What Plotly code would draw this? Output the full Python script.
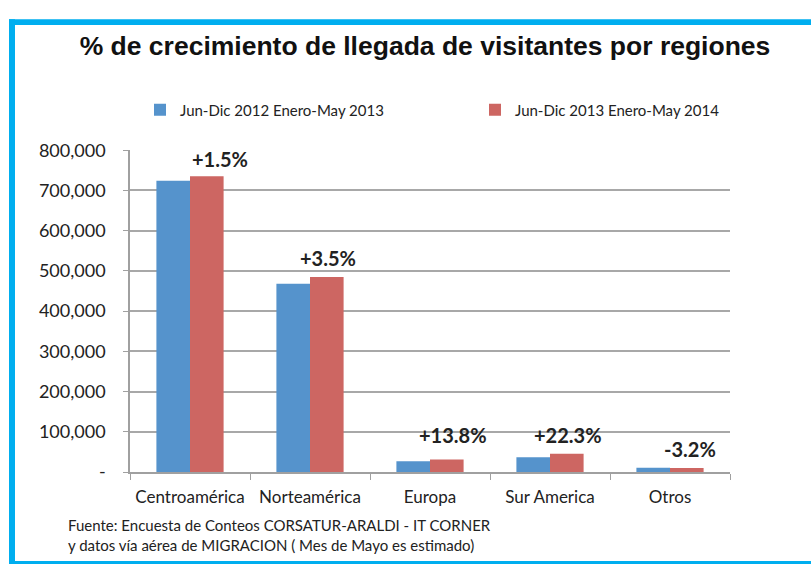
import plotly.graph_objects as go

categories = ["Centroamérica", "Norteamérica", "Europa", "Sur America", "Otros"]
serie_2013 = [724000, 468000, 27000, 36500, 10500]
serie_2014 = [735000, 485000, 31000, 45500, 10200]
crecimiento = ["+1.5%", "+3.5%", "+13.8%", "+22.3%", "-3.2%"]
nombres = ["Jun-Dic 2012 Enero-May 2013", "Jun-Dic 2013 Enero-May 2014"]
y_ticks = [0, 100000, 200000, 300000, 400000, 500000, 600000, 700000, 800000]
y_labels = ["-"] + [f"{v:,}" for v in y_ticks[1:]]

W, H = 811, 568
L, R, T, B = 130, 81, 143, 96
PW, PH = W - L - R, H - T - B


def px(x):
    return (x - L) / PW


def py(y):
    return (H - B - y) / PH


def cx(x):
    return x / W


def cy(y):
    return 1 - y / H


fig = go.Figure()
fig.add_trace(go.Bar(x=categories, y=serie_2013, name=nombres[0], legend="legend",
                     marker=dict(color="#5593CC", line_width=0)))
fig.add_trace(go.Bar(x=categories, y=serie_2014, name=nombres[1], legend="legend2",
                     marker=dict(color="#CD6662", line_width=0)))

# etiquetas de crecimiento sobre cada grupo
label_y = [778000, 533000, 92500, 92500, 56000]
label_dx = [30, 18, 23, 18, 20]
for cat, txt, yy, dx in zip(categories, crecimiento, label_y, label_dx):
    fig.add_annotation(x=cat, y=yy, text=f"<b>{txt}</b>", showarrow=False,
                       xshift=dx, font=dict(family="Lato", size=20, color="#222"))

# marco azul (arriba, izquierda, abajo)
azul = "#00AEEF"
fig.add_shape(type="rect", xref="paper", yref="paper", x0=px(9), x1=px(811),
              y0=py(15), y1=py(9), fillcolor=azul, line_width=0, layer="below")
fig.add_shape(type="rect", xref="paper", yref="paper", x0=px(9), x1=px(15),
              y0=py(566), y1=py(9), fillcolor=azul, line_width=0, layer="below")
fig.add_shape(type="rect", xref="paper", yref="paper", x0=px(9), x1=px(811),
              y0=py(566), y1=py(563), fillcolor=azul, line_width=0, layer="below")

fig.add_annotation(xref="paper", yref="paper", x=px(66), y=py(536), xanchor="left",
                   yanchor="middle", align="left", showarrow=False,
                   text="Fuente: Encuesta de Conteos CORSATUR-ARALDI - IT CORNER<br>"
                        "y datos vía aérea de MIGRACION ( Mes de Mayo es estimado)",
                   font=dict(family="Lato", size=15, color="#222"))

leg = dict(orientation="h", xref="container", yref="container", xanchor="left",
           yanchor="middle", y=cy(110), font=dict(size=15, color="#222"),
           itemwidth=30, bgcolor="rgba(0,0,0,0)")

fig.update_layout(
    width=W, height=H,
    margin=dict(l=L, r=R, t=T, b=B),
    paper_bgcolor="white", plot_bgcolor="white",
    barmode="group", bargap=0.44, bargroupgap=0,
    title=dict(text="<b>% de crecimiento de llegada de visitantes por regiones</b>",
               x=cx(425), xanchor="center", y=cy(46), yanchor="middle",
               font=dict(family="Liberation Sans", size=26.5, color="#111")),
    font=dict(family="Lato", color="#222"),
    legend=dict(leg, x=cx(140)),
    legend2=dict(leg, x=cx(475)),
    showlegend=True,
)
fig.update_xaxes(showline=True, linecolor="#A0A0A0", linewidth=1.5,
                 ticks="outside", tickson="boundaries", ticklen=6, tickcolor="#A0A0A0",
                 ticklabelstandoff=9, tickfont=dict(size=17, color="#222"))
fig.update_yaxes(range=[0, 800000], tickvals=y_ticks, ticktext=y_labels,
                 showgrid=True, gridcolor="#A8A8A8", gridwidth=1.5,
                 showline=True, linecolor="#A0A0A0", linewidth=1.5,
                 ticks="outside", ticklen=5, tickcolor="#A0A0A0", zeroline=False,
                 ticklabelstandoff=14, tickfont=dict(size=18, color="#222"))

# sin margen en el body para que la figura ocupe exactamente la ventana
fig.write_html("out.html", config={"displayModeBar": False},
               post_script="document.body.style.margin='0';"
                           "document.body.style.overflow='hidden';")
